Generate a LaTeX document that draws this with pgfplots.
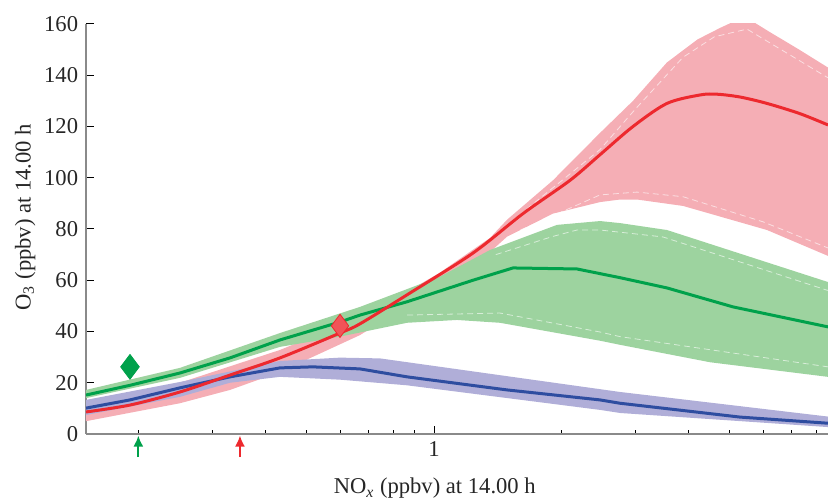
\documentclass[border=0pt]{standalone}
\usepackage{fontspec}
\setmainfont{Liberation Serif}
\usepackage{pgfplots}
\pgfplotsset{compat=1.18}
\usetikzlibrary{arrows.meta}

\definecolor{redline}{HTML}{ED292E}
\definecolor{redband}{HTML}{F5AEB5}
\definecolor{greenline}{HTML}{00A14B}
\definecolor{greenband}{HTML}{9DD39F}
\definecolor{blueline}{HTML}{2E4DA0}
\definecolor{blueband}{HTML}{B0AED8}
\definecolor{axgray}{HTML}{8A8A8A}

\begin{document}
\begin{tikzpicture}
\rmfamily\fontsize{11.3}{13.6}\selectfont
\useasboundingbox (-43pt,-33.5pt) rectangle (371pt,217pt);
\begin{axis}[
  at={(0,0)}, anchor=south west,
  scale only axis,
  width=371pt, height=205pt,
  xmode=log,
  xmin=0.1504, xmax=8.54,
  ymin=0, ymax=160,
  axis lines*=left,
  axis line style={axgray, line width=0.7pt},
  xtick={1}, xticklabels={1},
  minor xtick={0.2,0.3,0.4,0.5,0.6,0.7,0.8,0.9,2,3,4,5,6,7,8},
  ytick={0,20,40,60,80,100,120,140,160},
  major tick length=4pt,
  minor tick length=2pt,
  tick style={black, line width=0.5pt},
  tick label style={text=black!85, font=\rmfamily\fontsize{11.3}{13.6}\selectfont},
  /pgf/number format/assume math mode=true,
  xlabel={NO\textsubscript{\itshape x} (ppbv) at 14.00 h},
  ylabel={O\textsubscript{3} (ppbv) at 14.00 h},
  label style={text=black!85, font=\rmfamily\fontsize{11.3}{13.6}\selectfont},
  xlabel style={at={(axis description cs:0.470,-0.146)}, anchor=base},
  ylabel style={at={(axis description cs:-0.082,0.529)}, anchor=center, rotate=0},
]
% red band (upper, then lower reversed)
\addplot[draw=none, fill=redband] coordinates {
  (0.1504,10.5) (0.2508,20) (0.4324,32.8) (0.6684,45.5) (0.8634,55.5)
  (1.033,63) (1.356,76.5) (1.488,83.6) (1.911,99) (2.469,117.5)
  (2.954,130) (3.554,145) (4.2,154) (4.75,158.5) (5.2,161.5) (5.6,161.5)
  (6.2,157) (7.3,150) (8.54,143)
  (8.54,69.5) (6.127,79.6) (3.879,89) (3.019,91.5) (2.753,91.5) (2.469,90.5)
  (1.911,86) (1.488,77) (1.356,71) (1.133,62) (0.8634,50) (0.6684,38.6)
  (0.5995,35) (0.4324,24.2) (0.3295,17.2) (0.2508,12) (0.1504,5)
} -- cycle;
% green band
\addplot[draw=none, fill=greenband] coordinates {
  (0.1504,17.2) (0.2508,25.8) (0.4324,39.4) (0.6684,49.6) (1.033,61.4)
  (1.356,71.8) (1.953,81.6) (2.469,83.1) (2.753,82.3) (3.554,79.6) (8.54,59.3)
  (8.54,22.3) (4.493,28) (2.753,34.8) (2.469,36.4) (1.432,43.4) (1.133,44.5)
  (0.8634,43.4) (0.5995,38) (0.4324,34) (0.2508,21.9) (0.1504,14)
} -- cycle;
% blue band
\addplot[draw=none, fill=blueband] coordinates {
  (0.1504,13.3) (0.2508,20.3) (0.4324,28.5) (0.5995,29.8) (0.7454,29.5)
  (2.753,16.4) (8.54,6.8)
  (8.54,2.7) (2.753,8.2) (2.469,9.4) (0.8634,19) (0.5995,21.2) (0.4324,22.3)
  (0.3295,20) (0.2508,14.5) (0.1504,7.4)
} -- cycle;
% inner dashed percentile lines
\addplot[white, opacity=0.6, line width=0.4pt, dash pattern=on 3pt off 2pt] coordinates {
  (1.4,78) (2.469,111) (3.0,127) (3.878,147) (4.6,155) (5.495,158) (8.54,139)};
\addplot[white, opacity=0.6, line width=0.4pt, dash pattern=on 3pt off 2pt] coordinates {
  (1.6,79.6) (2.469,93.3) (3.019,94.4) (3.879,92.6) (5.996,82.8) (8.54,72.6)};
\addplot[white, opacity=0.6, line width=0.4pt, dash pattern=on 3pt off 2pt] coordinates {
  (1.4,70) (1.9,77) (2.178,79.6) (2.469,79.6) (3.478,76.9) (8.54,56)};
\addplot[white, opacity=0.6, line width=0.4pt, dash pattern=on 3pt off 2pt] coordinates {
  (0.8634,46.4) (1.432,47.2) (2.469,39.8) (2.753,38) (8.54,26.2)};
% central lines
\addplot[blueline, line width=1.5pt] coordinates {
  (0.1504,10.1) (0.1911,13.3) (0.2508,18) (0.3295,22.3) (0.4324,25.8)
  (0.5175,26.2) (0.6684,25.4) (0.8634,22.3) (1.488,17.2) (2.469,13.3)
  (2.753,12) (5.289,6.6) (8.54,4.2)};
\addplot[greenline, line width=1.5pt] coordinates {
  (0.1504,15.2) (0.1911,19) (0.2508,23.8) (0.3295,29.7) (0.4324,36.7)
  (0.5995,43.7) (0.6684,46.4) (0.8634,51.6) (1.236,60) (1.537,64.8)
  (2.178,64.4) (2.753,61) (3.554,57) (5.092,49.6) (8.54,41.8)};
\addplot[redline, line width=1.5pt, smooth] coordinates {
  (0.1504,8.6) (0.1911,11.3) (0.2508,16.4) (0.3295,23) (0.4324,29.7)
  (0.5995,39.4) (0.6684,43) (0.8634,54.3) (1.236,70.6) (1.623,86)
  (2.097,99) (2.469,109) (2.954,120) (3.554,129) (4.255,132.3)
  (4.667,132.6) (5.289,131.5) (6.127,129) (7.333,125) (8.54,120.6)};
% observations
\addplot[only marks, mark=diamond*, mark size=6.2pt,
  mark options={draw=greenline, fill=greenline}] coordinates {(0.1911,26.2)};
\addplot[only marks, mark=diamond*, mark size=5.8pt,
  mark options={draw=redline, fill=redline!80!white}] coordinates {(0.5995,42.2)};
\coordinate (ga) at (axis cs:0.2,-9);
\coordinate (gb) at (axis cs:0.2,-0.6);
\coordinate (ra) at (axis cs:0.3477,-9);
\coordinate (rb) at (axis cs:0.3477,-0.6);
\end{axis}
\draw[greenline, line width=1pt, -{Latex[length=5.5pt,width=5pt]}] (ga) -- (gb);
\draw[redline, line width=1pt, -{Latex[length=5.5pt,width=5pt]}] (ra) -- (rb);
\end{tikzpicture}
\end{document}
